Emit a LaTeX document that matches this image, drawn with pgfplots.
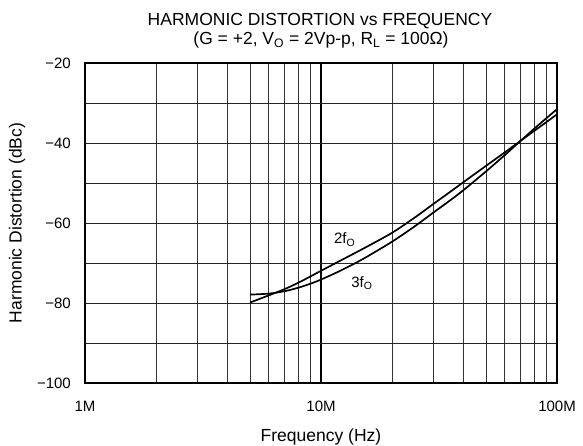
\documentclass[border=0pt]{standalone}
\usepackage{fontspec}
\setmainfont{Liberation Sans}
\usepackage{pgfplots}
\pgfplotsset{compat=1.18}
\begin{document}
\fontsize{15pt}{18pt}\selectfont
\begin{tikzpicture}
\begin{axis}[
 scale only axis, width=472pt, height=320pt,
 xmode=log, xmin=1e6, xmax=1e8,
 ymin=-100, ymax=-20,
 xtick={1e6,1e7,1e8}, xticklabels={1M,10M,100M},
 minor xtick={2e6,3e6,4e6,5e6,6e6,7e6,8e6,9e6,2e7,3e7,4e7,5e7,6e7,7e7,8e7,9e7},
 ytick={-100,-80,-60,-40,-20}, yticklabels={−100,−80,−60,−40,−20},
 minor ytick={-90,-70,-50,-30},
 grid=both,
 major x grid style={black, line width=1.6pt},
 minor x grid style={black!80, line width=0.9pt},
 major y grid style={black!85, line width=0.9pt},
 minor y grid style={black!85, line width=0.9pt},
 axis line style={line width=1.8pt},
 major tick length=0pt, minor tick length=0pt,
 tick label style={font=\fontsize{15}{18}\selectfont},
 xticklabel style={yshift=-13pt},
 yticklabel style={xshift=-9pt},
 clip=true,
]
\coordinate (bl) at (rel axis cs:0,0);
\addplot[black, line width=1.7pt, smooth] coordinates {
 (5e6,-79.9) (6e6,-78.1) (7e6,-76.55) (8e6,-74.95) (9e6,-73.4) (1e7,-71.95)
 (1.2e7,-69.5) (1.5e7,-66.5) (2e7,-62.45) (2.5e7,-58.6) (3e7,-55.2)
 (3.5e7,-52.35) (4e7,-49.85) (5e7,-45.72) (6e7,-42.36) (7e7,-39.48)
 (8e7,-36.99) (9e7,-34.8) (1e8,-32.82)};
\addplot[black, line width=1.7pt, smooth] coordinates {
 (5e6,-77.9) (6e6,-77.66) (7e6,-77.06) (8e6,-76.19) (9e6,-75.2) (1e7,-74.14)
 (1.2e7,-72.01) (1.5e7,-69.05) (2e7,-64.67) (2.5e7,-60.79) (3e7,-57.35)
 (3.5e7,-54.47) (4e7,-51.86) (5e7,-47.11) (6e7,-43.04) (7e7,-39.49)
 (8e7,-36.44) (9e7,-33.84) (1e8,-31.54)};
\node at (axis cs:1.26e7,-64.2) {2f\textsubscript{O}};
\node at (axis cs:1.49e7,-75.0) {3f\textsubscript{O}};
\end{axis}
\node[rotate=90, font=\fontsize{17.5}{20}\selectfont] at ([xshift=-68pt,yshift=160pt]bl) {Harmonic Distortion (dBc)};
\node[font=\fontsize{17.5}{20}\selectfont] at ([xshift=236pt,yshift=-54pt]bl) {Frequency (Hz)};
\node[anchor=base, font=\fontsize{17.5}{20}\selectfont] at ([xshift=235pt,yshift=357pt]bl) {HARMONIC DISTORTION vs FREQUENCY};
\node[anchor=base, font=\fontsize{17.5}{20}\selectfont] at ([xshift=236pt,yshift=338pt]bl) {(G = +2, V\textsubscript{O} = 2Vp-p, R\textsubscript{L} = 100Ω)};
\pgfresetboundingbox
\path[use as bounding box] ([xshift=-85pt,yshift=-63pt]bl) rectangle ++(583pt,446pt);
\end{tikzpicture}
\end{document}
